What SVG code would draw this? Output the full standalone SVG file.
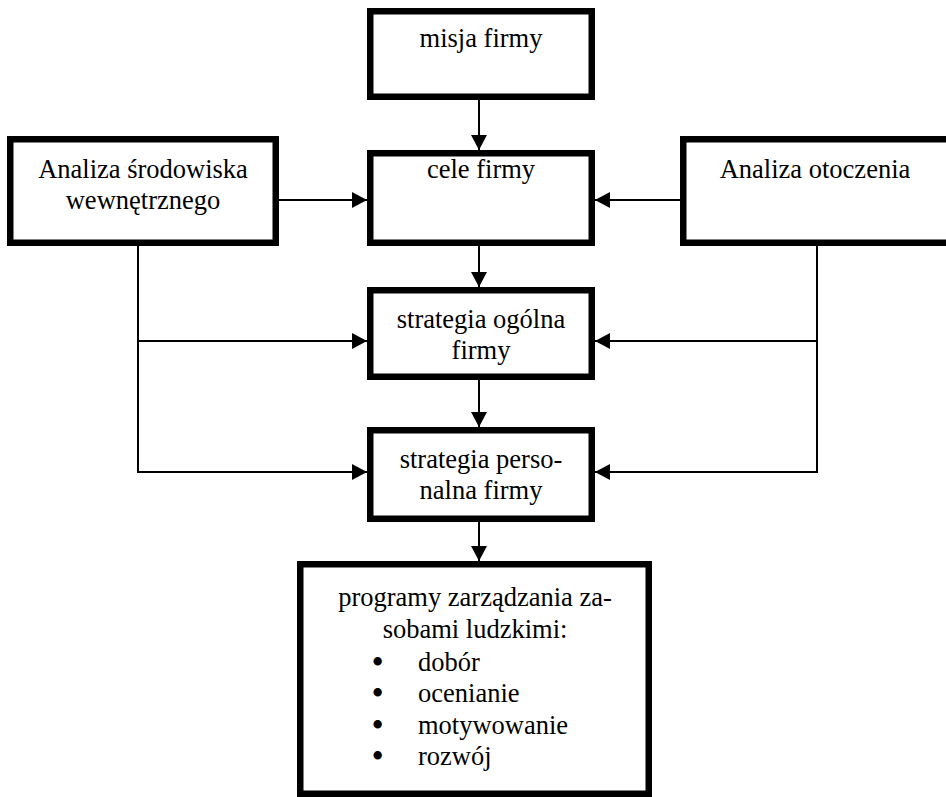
<svg xmlns="http://www.w3.org/2000/svg" width="946" height="797" viewBox="0 0 946 797">
<style>
.box{fill:#fff;stroke:#000;stroke-width:6.5}
.t{font-family:"Liberation Serif","Times New Roman",serif;font-size:26.5px;fill:#000;text-anchor:middle}
.l{text-anchor:start}
.b{stroke:#000;stroke-width:2}
.c{fill:none;stroke:#000;stroke-width:2}
</style>
<defs>
<marker id="ah" markerUnits="userSpaceOnUse" markerWidth="16" markerHeight="16" refX="15" refY="8" orient="auto">
<path d="M0,0 L15,8 L0,16 z" fill="#000"/>
</marker>
</defs>
<rect width="946" height="797" fill="#fff"/>
<g id="connectors">
<line class="c" x1="479" y1="100" x2="479" y2="150" marker-end="url(#ah)"/>
<line class="c" x1="479" y1="246" x2="479" y2="287" marker-end="url(#ah)"/>
<line class="c" x1="479" y1="380" x2="479" y2="427" marker-end="url(#ah)"/>
<line class="c" x1="479" y1="522" x2="479" y2="561" marker-end="url(#ah)"/>
<line class="c" x1="279" y1="200" x2="367" y2="200" marker-end="url(#ah)"/>
<line class="c" x1="680" y1="200" x2="595" y2="200" marker-end="url(#ah)"/>
<path class="c" d="M138,246 V472 H367" marker-end="url(#ah)"/>
<line class="c" x1="138" y1="341" x2="367" y2="341" marker-end="url(#ah)"/>
<path class="c" d="M817,246 V472 H595" marker-end="url(#ah)"/>
<line class="c" x1="817" y1="341" x2="595" y2="341" marker-end="url(#ah)"/>
</g>
<g id="misja">
<rect class="box" x="370.25" y="11.25" width="221.5" height="85.5"/>
<text class="t" x="481" y="47">misja firmy</text>
</g>
<g id="srodowisko">
<rect class="box" x="10.25" y="139.25" width="265.5" height="103.5"/>
<text class="t" x="143" y="178">Analiza środowiska</text>
<text class="t" x="143" y="209">wewnętrznego</text>
</g>
<g id="cele">
<rect class="box" x="370.25" y="153.25" width="221.5" height="89.5"/>
<text class="t" x="481" y="178">cele firmy</text>
</g>
<g id="otoczenie">
<rect class="box" x="683.25" y="139.25" width="266" height="103.5"/>
<text class="t" x="815" y="178">Analiza otoczenia</text>
</g>
<g id="ogolna">
<rect class="box" x="370.25" y="290.25" width="221.5" height="86.5"/>
<text class="t" x="481" y="328">strategia ogólna</text>
<text class="t" x="481" y="359">firmy</text>
</g>
<g id="personalna">
<rect class="box" x="370.25" y="430.25" width="221.5" height="88.5"/>
<text class="t" x="481" y="468">strategia perso-</text>
<text class="t" x="481" y="499">nalna firmy</text>
</g>
<g id="programy">
<rect class="box" x="300.25" y="564.25" width="348.5" height="229.5"/>
<text class="t" x="475" y="606">programy zarządzania za-</text>
<text class="t" x="475" y="637.5">sobami ludzkimi:</text>
<text class="t l b" x="373" y="670.5">•</text>
<text class="t l" x="418" y="670.5">dobór</text>
<text class="t l b" x="373" y="702">•</text>
<text class="t l" x="418" y="702">ocenianie</text>
<text class="t l b" x="373" y="733.5">•</text>
<text class="t l" x="418" y="733.5">motywowanie</text>
<text class="t l b" x="373" y="764.5">•</text>
<text class="t l" x="418" y="764.5">rozwój</text>
</g>
</svg>
